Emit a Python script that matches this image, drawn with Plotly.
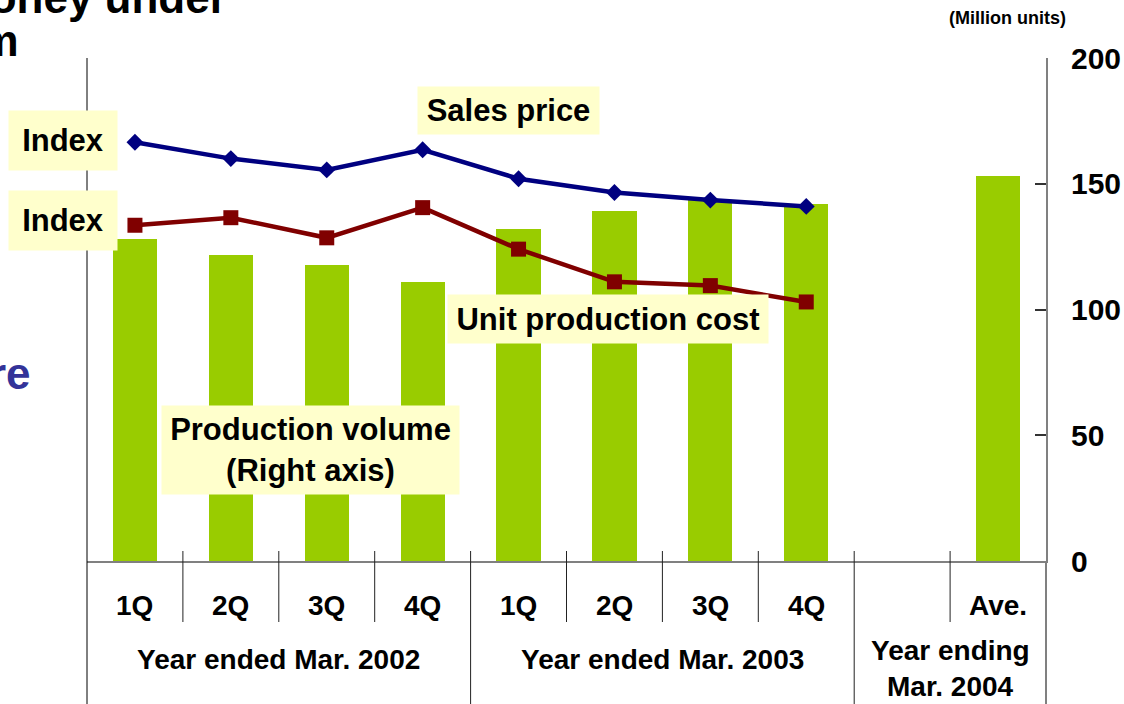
import plotly.graph_objects as go

# ---------------- data ----------------
quarters = ["1Q", "2Q", "3Q", "4Q", "1Q", "2Q", "3Q", "4Q", "", "Ave."]
groups = ["Year ended Mar. 2002", "Year ended Mar. 2003", "Year ending<br>Mar. 2004"]
group_sizes = [4, 4, 2]

# production volume (million units, right axis); None = empty slot
volume = [128, 121.5, 117.5, 111, 132, 139, 143.5, 142, None, 153]
# index values (relative, hidden left axis)
sales_price = [166.5, 160, 155.5, 163.5, 152, 146.5, 143.5, 141]
unit_cost = [133.5, 136.5, 128.5, 140.5, 124, 111, 109.5, 103]

right_ticks = [0, 50, 100, 150, 200]

# ---------------- style ----------------
FONT = "Liberation Sans, Arial, sans-serif"
GREEN = "#99CC00"
NAVY = "#000080"
MAROON = "#800000"
BOX = "#FFFFCC"
AXIS_GRAY = "#808080"

W, H = 1124, 704
L, R, T, B = 87, 1046, 58, 561  # plot area in pixels


def px(x):
    return (x - L) / (R - L)


def py(y):
    return (B - y) / (B - T)


n = len(quarters)
xs = list(range(n))

fig = go.Figure()

fig.add_trace(go.Bar(
    x=xs, y=volume, width=0.46, marker=dict(color=GREEN, line=dict(width=0)),
    yaxis="y", hoverinfo="skip", showlegend=False,
))
fig.add_trace(go.Scatter(
    x=xs[:len(sales_price)], y=sales_price, mode="lines+markers", yaxis="y2",
    line=dict(color=NAVY, width=4.5),
    marker=dict(symbol="diamond", size=13, color=NAVY),
    showlegend=False, hoverinfo="skip",
))
fig.add_trace(go.Scatter(
    x=xs[:len(unit_cost)], y=unit_cost, mode="lines+markers", yaxis="y2",
    line=dict(color=MAROON, width=4.5),
    marker=dict(symbol="square", size=15, color=MAROON),
    showlegend=False, hoverinfo="skip",
))

shapes = []
# left vertical line (full height)
shapes.append(dict(type="line", xref="paper", yref="paper", x0=0, x1=0,
                   y0=1, y1=py(H + 2), line=dict(color="black", width=1)))
# right axis extension down through the category area
shapes.append(dict(type="line", xref="paper", yref="paper", x0=1, x1=1,
                   y0=0, y1=py(H + 2), line=dict(color=AXIS_GRAY, width=2)))
# category separators
bounds = []
acc = 0
for s in group_sizes:
    acc += s
    bounds.append(acc)
for i in range(1, n):
    xb = i - 0.5
    if i in bounds:
        shapes.append(dict(type="line", xref="x", yref="paper", x0=xb, x1=xb,
                           y0=py(551), y1=py(H + 2), line=dict(color="#222222", width=1)))
    else:
        shapes.append(dict(type="line", xref="x", yref="paper", x0=xb, x1=xb,
                           y0=py(551), y1=py(622), line=dict(color="#222222", width=1)))

annotations = []
# quarter labels
for i, q in enumerate(quarters):
    if q:
        annotations.append(dict(x=i, y=py(605), xref="x", yref="paper", text=q,
                                showarrow=False, xanchor="center", yanchor="middle",
                                font=dict(family=FONT, size=28, color="black", weight="bold")))
# group labels (one annotation per line for tight line spacing)
start = 0
for g, s in zip(groups, group_sizes):
    c = start + (s - 1) / 2
    lines = g.split("<br>")
    centers = [659] if len(lines) == 1 else [650, 687]
    for line, cy in zip(lines, centers):
        annotations.append(dict(x=c, y=py(cy), xref="x", yref="paper", text=line,
                                showarrow=False, xanchor="center", yanchor="middle",
                                font=dict(family=FONT, size=28, color="black", weight="bold")))
    start += s


def box(text, cx, cy, w, h, size=31):
    return dict(x=px(cx), y=py(cy), xref="paper", yref="paper", text=text,
                showarrow=False, xanchor="center", yanchor="middle",
                width=w, height=h, bgcolor=BOX, borderpad=0, align="center",
                font=dict(family=FONT, size=size, color="black", weight="bold"))


annotations += [
    box("Index", 63, 140, 108, 59),
    box("Index", 63, 220, 108, 59),
    box("Sales price", 508, 110, 181, 47),
    box("Unit production cost", 608, 319, 320, 48),
    box("Production volume<br>(Right axis)", 310, 450, 297, 88),
]

# unit label
annotations.append(dict(x=px(1007), y=py(18), xref="paper", yref="paper",
                        text="(Million units)", showarrow=False,
                        xanchor="center", yanchor="middle",
                        font=dict(family=FONT, size=18, color="black", weight="bold")))

# cropped slide-title fragments
annotations.append(dict(x=px(229), y=py(24), xref="paper", yref="paper",
                        text="Money under", showarrow=False,
                        xanchor="right", yanchor="bottom",
                        font=dict(family=FONT, size=44, color="black", weight="bold")))
annotations.append(dict(x=px(21), y=py(67), xref="paper", yref="paper",
                        text="system", showarrow=False,
                        xanchor="right", yanchor="bottom",
                        font=dict(family=FONT, size=44, color="black", weight="bold")))
annotations.append(dict(x=px(33), y=py(400), xref="paper", yref="paper",
                        text="re", showarrow=False,
                        xanchor="right", yanchor="bottom",
                        font=dict(family=FONT, size=44, color="#333399", weight="bold")))

fig.update_layout(
    width=W, height=H,
    margin=dict(l=L, r=W - R, t=T, b=H - B, pad=0, autoexpand=False),
    plot_bgcolor="white", paper_bgcolor="white",
    bargap=0,
    xaxis=dict(range=[-0.5, n - 0.5], showticklabels=False, ticks="",
               showgrid=False, zeroline=False, showline=True, automargin=False,
               linecolor=AXIS_GRAY, linewidth=2, fixedrange=True),
    yaxis=dict(side="right", range=[0, 200], tickvals=right_ticks,
               ticks="inside", ticklen=11, tickwidth=1.5, tickcolor="#333333",
               showline=True, linecolor=AXIS_GRAY, linewidth=2, automargin=False,
               showgrid=False, zeroline=False, ticklabelstandoff=17,
               tickfont=dict(family=FONT, size=30, color="black", weight="bold")),
    yaxis2=dict(overlaying="y", side="left", range=[0, 200], visible=False,
                automargin=False),
    shapes=shapes,
    annotations=annotations,
    font=dict(family=FONT),
)

fig.write_html("out.html", config={"displayModeBar": False},
               post_script="document.body.style.margin='0';")
